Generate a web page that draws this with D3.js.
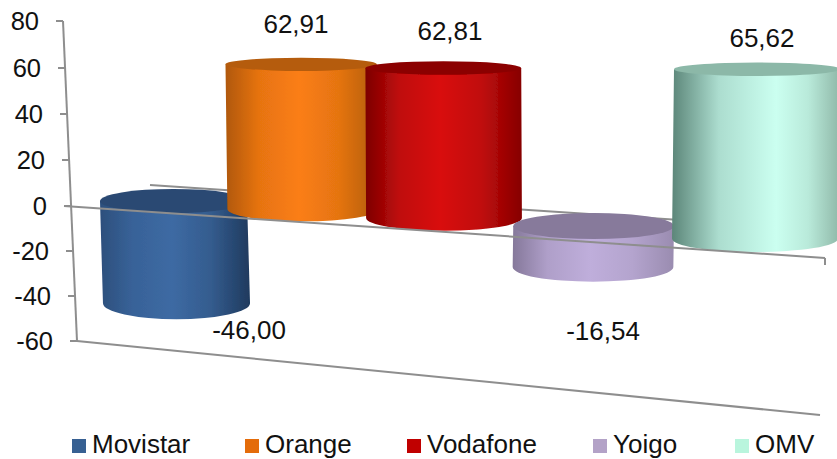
<!DOCTYPE html>
<html><head><meta charset="utf-8">
<script src="https://cdn.jsdelivr.net/npm/d3@7"></script>
<style>html,body{margin:0;padding:0;background:#fff;overflow:hidden}svg{display:block}text{font-family:"Liberation Sans",Arial,sans-serif;fill:#111}</style>
</head><body><svg id="c" width="837" height="459"></svg>
<script>
const categories = ["Movistar","Orange","Vodafone","Yoigo","OMV"];
const values = [-46.00,62.91,62.81,-16.54,65.62];
const valueLabels = ["-46,00","62,91","62,81","-16,54","65,62"];
const tickValues = [80,60,40,20,0,-20,-40,-60];
const sideStops = [
 ["#2c4f7c","#3d6aa3","#1f3a5e"],
 ["#b05808","#fb7e14","#b05c0a"],
 ["#7d0000","#d90f0f","#860000"],
 ["#85789a","#bfaedb","#9a8cb0"],
 ["#5c8679","#cbfff0","#8fb8a8"]];
const topColors = ["#2c4a73","#b55c0b","#8b0000","#877a9b","#8cb8a8"];
const swatchColors = ["#376092","#e46c0a","#c00000","#b3a2c7","#b9f5dd"];

const svg = d3.select("#c");
const defs = svg.append("defs");
defs.append("filter").attr("id","soft").attr("x","-5%").attr("y","-5%").attr("width","110%").attr("height","110%")
  .append("feGaussianBlur").attr("stdDeviation",0.45);
const axisColor = "#8e8e8e";

const axisY = d3.scaleLinear().domain([-60,-40,-20,0,20,40,60,80]).range([341,296,251,206,160,114,68,21]);
const axisX = d3.scaleLinear().domain([-60,80]).range([77,63]);
const cx = d3.scaleLinear().domain([0,1,2,3,4]).range([176.5,303,444,593,755]);
const zeroY = d3.scaleLinear().domain([176.5,303,444,593,755]).range([201,209,218,226,238.5]);
const unit = d3.scaleLinear().domain([175,755]).range([2.22,2.58]);
const widthAt = d3.scaleLinear().domain([175,755]).range([147,166]);
const skew = d3.scaleLinear().domain([175,755]).range([-3,2]);
const ryAt = d3.scaleLinear().domain([62,300]).range([6.5,16]);

const g = svg.append("g").attr("fill","none").attr("stroke",axisColor).attr("stroke-width",2).attr("filter","url(#soft)");
g.append("line").attr("x1",axisX(-60)-7).attr("y1",axisY(-60)).attr("x2",axisX(-60)).attr("y2",axisY(-60));
g.append("line").attr("x1",axisX(-60)).attr("y1",axisY(-60)).attr("x2",820).attr("y2",415);
g.append("line").attr("x1",150).attr("y1",185).attr("x2",680).attr("y2",220);
g.append("line").attr("x1",axisX(80)).attr("y1",axisY(80)).attr("x2",axisX(-60)).attr("y2",axisY(-60));
tickValues.forEach(v=>{
  g.append("line").attr("x1",axisX(v)-7).attr("x2",axisX(v)).attr("y1",axisY(v)).attr("y2",axisY(v));
  svg.append("text").attr("x",axisX(v)-24).attr("y",axisY(v)).attr("dy","0.36em")
    .attr("text-anchor","end").attr("font-size",25.5).text(v);
});

categories.forEach((name,i)=>{
  const x = cx(i), w = widthAt(x), z = zeroY(x), k = unit(x), v = values[i];
  const yTop = v>=0 ? z - v*k : z;
  const yBot = v>=0 ? z : z - v*k;
  const rT = ryAt(yTop), rB = ryAt(yBot), s = skew(x);
  const id = "grad"+i;
  const gr = defs.append("linearGradient").attr("id",id);
  const st = sideStops[i];
  const mid = i===4 ? 0.62 : 0.48;
  gr.append("stop").attr("offset",0).attr("stop-color",st[0]);
  gr.append("stop").attr("offset",mid*0.45).attr("stop-color",d3.interpolateRgb(st[0],st[1])(0.72));
  gr.append("stop").attr("offset",mid).attr("stop-color",st[1]);
  gr.append("stop").attr("offset",mid+(1-mid)*0.5).attr("stop-color",d3.interpolateRgb(st[1],st[2])(0.3));
  gr.append("stop").attr("offset",1).attr("stop-color",st[2]);
  const xl = x-w/2, xr = x+w/2;
  const c = svg.append("g").attr("filter","url(#soft)");
  c.append("path")
    .attr("d",`M${xl+s},${yTop} L${xl},${yBot} A${w/2},${rB} 0 0 0 ${xr},${yBot} L${xr+s},${yTop} Z`)
    .attr("fill",`url(#${id})`);
  c.append("ellipse").attr("cx",x+s).attr("cy",yTop).attr("rx",w/2).attr("ry",rT).attr("fill",topColors[i]);
});

const front = svg.append("g").attr("fill","none").attr("stroke",axisColor).attr("stroke-width",2).attr("filter","url(#soft)");
front.append("line").attr("x1",axisX(0)-7).attr("y1",axisY(0)).attr("x2",825).attr("y2",258);
front.append("line").attr("x1",825).attr("y1",258).attr("x2",825).attr("y2",265);

const labelPos = [[249,330],[296,24],[450,31],[603,331],[762,38]];
valueLabels.forEach((t,i)=>{
  svg.append("text").attr("x",labelPos[i][0]).attr("y",labelPos[i][1]).attr("dy","0.36em")
    .attr("text-anchor","middle").attr("font-size",26).text(t);
});

const legX = [72,245,407,593,735];
categories.forEach((name,i)=>{
  svg.append("rect").attr("x",legX[i]).attr("y",439).attr("width",14).attr("height",14).attr("fill",swatchColors[i]);
  svg.append("text").attr("x",legX[i]+20).attr("y",453.4).attr("font-size",26).text(name);
});
</script></body></html>
